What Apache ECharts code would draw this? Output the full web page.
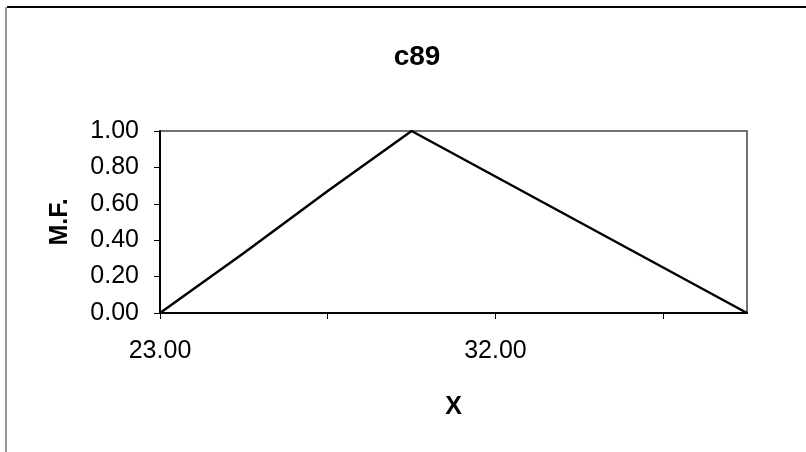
<!DOCTYPE html>
<html>
<head>
<meta charset="utf-8">
<script src="https://cdn.jsdelivr.net/npm/echarts@6/dist/echarts.min.js"></script>
<style>
  html, body { margin: 0; padding: 0; background: #fff; }
  #chart { width: 806px; height: 452px; }
</style>
</head>
<body>
<div id="chart"></div>
<script>
// Triangular membership function "c89"
const categories = ['23.00', '25.25', '27.50', '29.75', '32.00', '34.25', '36.50', '38.75'];
const membership = [0, 0.33, 0.67, 1.0, 0.75, 0.5, 0.25, 0];
const yTicks = { min: 0, max: 1, step: 0.2 };

const FONT = '"Liberation Sans", Arial, sans-serif';
const chart = echarts.init(document.getElementById('chart'), null, { renderer: 'canvas' });

chart.setOption({
  backgroundColor: '#fff',
  animation: false,
  title: {
    text: 'c89',
    left: 412,
    top: 38,
    textAlign: 'center',
    textStyle: { fontFamily: FONT, fontSize: 28, fontWeight: 'bold', color: '#000' }
  },
  grid: {
    left: 160, right: 59, top: 131, bottom: 139,
    show: true, borderColor: '#444', borderWidth: 1.5, backgroundColor: 'transparent'
  },
  xAxis: {
    type: 'category',
    data: categories,
    boundaryGap: false,
    name: 'X',
    nameLocation: 'middle',
    nameGap: 82,
    nameTextStyle: { fontFamily: FONT, fontSize: 25, fontWeight: 'bold', color: '#000' },
    axisLine: { lineStyle: { color: '#000', width: 2 } },
    axisTick: { show: true, interval: 1, length: 6, inside: false, lineStyle: { color: '#000', width: 1 } },
    axisLabel: {
      interval: 3,
      margin: 26,
      fontFamily: FONT, fontSize: 25, color: '#000'
    },
    splitLine: { show: false }
  },
  yAxis: {
    type: 'value',
    min: yTicks.min,
    max: yTicks.max,
    interval: yTicks.step,
    name: 'M.F.',
    nameLocation: 'middle',
    nameGap: 87,
    nameRotate: 90,
    nameTextStyle: { fontFamily: FONT, fontSize: 25, fontWeight: 'bold', color: '#000' },
    axisLine: { show: true, lineStyle: { color: '#000', width: 2 } },
    axisTick: { show: true, length: 6, lineStyle: { color: '#000', width: 1 } },
    axisLabel: {
      margin: 21,
      formatter: v => v.toFixed(2),
      fontFamily: FONT, fontSize: 25, color: '#000'
    },
    splitLine: { show: false }
  },
  series: [{
    type: 'line',
    data: membership,
    showSymbol: false,
    symbol: 'none',
    lineStyle: { color: '#000', width: 2.5 }
  }],
  graphic: [
    // outer chart-area frame (top and left edges)
    { type: 'line', shape: { x1: 7, y1: 7, x2: 806, y2: 7 }, style: { stroke: '#000', lineWidth: 2 } },
    { type: 'line', shape: { x1: 6, y1: 7, x2: 6, y2: 452 }, style: { stroke: '#777', lineWidth: 1.5 } }
  ]
});
</script>
</body>
</html>
